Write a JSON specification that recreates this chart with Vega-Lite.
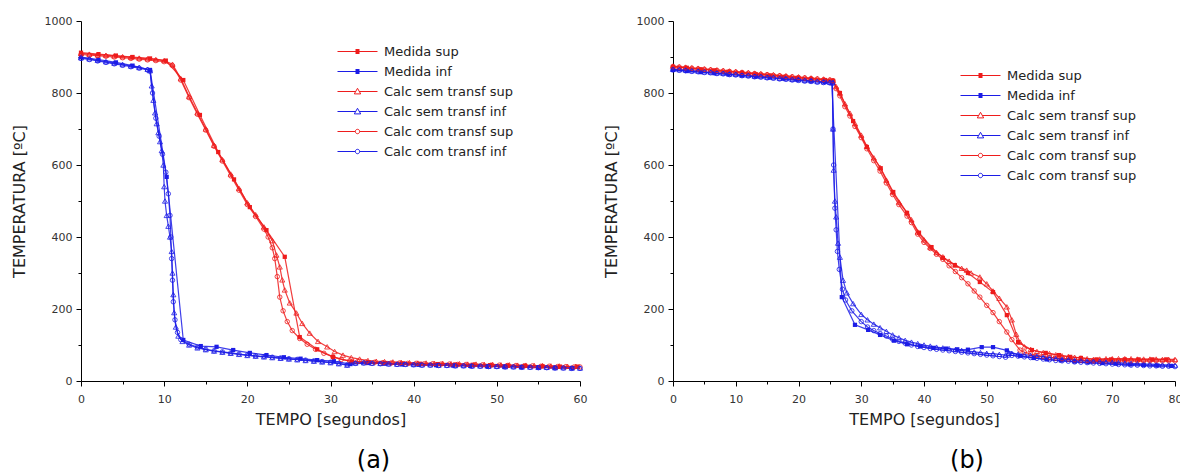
{
"$schema": "https://vega.github.io/schema/vega-lite/v6.json",
"padding": {"left": 11, "top": 15, "right": 0, "bottom": 0},
"spacing": 16,
"config": {
  "view": {"stroke": null},
  "font": "DejaVu Sans",
  "axis": {"grid": false, "domainColor": "#000", "tickColor": "#000", "labelColor": "#333", "titleColor": "#222", "labelFontSize": 11, "titleFontSize": 16, "titleFontWeight": "normal", "domainWidth": 1, "tickWidth": 1},
  "legend": {"labelFontSize": 13, "labelColor": "#222"},
  "title": {"fontSize": 24, "fontWeight": "normal", "color": "#000", "orient": "bottom"}
},
"datasets": {
"a": [
{"s":"ms","t":0,"T":912},{"s":"ms","t":2.1,"T":908},{"s":"ms","t":4.2,"T":904},{"s":"ms","t":6.2,"T":900},{"s":"ms","t":8.3,"T":896},{"s":"ms","t":10.2,"T":890},{"s":"ms","t":12.3,"T":836},{"s":"ms","t":14.3,"T":739},{"s":"ms","t":16.5,"T":636},{"s":"ms","t":18.4,"T":560},{"s":"ms","t":20.3,"T":483},{"s":"ms","t":22.3,"T":419},{"s":"ms","t":24.5,"T":345},{"s":"ms","t":26.3,"T":122},{"s":"ms","t":28.4,"T":88},{"s":"ms","t":30.3,"T":67},{"s":"ms","t":32.6,"T":53},{"s":"ms","t":34.6,"T":52},{"s":"ms","t":36.6,"T":50},{"s":"ms","t":38.7,"T":49},{"s":"ms","t":40.8,"T":48},{"s":"ms","t":42.9,"T":47},{"s":"ms","t":45,"T":46},{"s":"ms","t":47.1,"T":45},{"s":"ms","t":49.2,"T":44},{"s":"ms","t":51.3,"T":43},{"s":"ms","t":53.4,"T":42},{"s":"ms","t":55.5,"T":41},{"s":"ms","t":57.6,"T":40},{"s":"ms","t":59.7,"T":40},
{"s":"mi","t":0,"T":900},{"s":"mi","t":2.1,"T":893},{"s":"mi","t":4.2,"T":885},{"s":"mi","t":6.2,"T":876},{"s":"mi","t":8.3,"T":864},{"s":"mi","t":10.3,"T":567},{"s":"mi","t":12.3,"T":114},{"s":"mi","t":14.4,"T":97},{"s":"mi","t":16.3,"T":95},{"s":"mi","t":18.3,"T":86},{"s":"mi","t":20.3,"T":78},{"s":"mi","t":22.3,"T":72},{"s":"mi","t":24.4,"T":66},{"s":"mi","t":26.4,"T":62},{"s":"mi","t":28.4,"T":58},{"s":"mi","t":30.4,"T":55},{"s":"mi","t":32.4,"T":47},{"s":"mi","t":34.5,"T":50},{"s":"mi","t":36.5,"T":48},{"s":"mi","t":38.6,"T":46},{"s":"mi","t":40.6,"T":45},{"s":"mi","t":42.7,"T":44},{"s":"mi","t":44.7,"T":43},{"s":"mi","t":46.8,"T":42},{"s":"mi","t":48.8,"T":41},{"s":"mi","t":50.9,"T":40},{"s":"mi","t":52.9,"T":39},{"s":"mi","t":55,"T":38},{"s":"mi","t":57,"T":37},{"s":"mi","t":59.1,"T":36},
{"s":"ss","t":0,"T":910},{"s":"ss","t":1,"T":908},{"s":"ss","t":2,"T":906},{"s":"ss","t":3,"T":905},{"s":"ss","t":4,"T":903},{"s":"ss","t":5,"T":901},{"s":"ss","t":6,"T":899},{"s":"ss","t":7,"T":897},{"s":"ss","t":8,"T":895},{"s":"ss","t":9,"T":893},{"s":"ss","t":10,"T":890},{"s":"ss","t":11,"T":880},{"s":"ss","t":12,"T":840},{"s":"ss","t":13,"T":790},{"s":"ss","t":14,"T":745},{"s":"ss","t":15,"T":700},{"s":"ss","t":16,"T":655},{"s":"ss","t":17,"T":615},{"s":"ss","t":18,"T":575},{"s":"ss","t":19,"T":535},{"s":"ss","t":20,"T":495},{"s":"ss","t":21,"T":462},{"s":"ss","t":22,"T":428},{"s":"ss","t":23,"T":390},{"s":"ss","t":23.5,"T":350},{"s":"ss","t":23.9,"T":317},{"s":"ss","t":24.2,"T":281},{"s":"ss","t":24.5,"T":253},{"s":"ss","t":25.1,"T":217},{"s":"ss","t":25.9,"T":189},{"s":"ss","t":26.6,"T":160},{"s":"ss","t":27.5,"T":133},{"s":"ss","t":28.5,"T":110},{"s":"ss","t":29.6,"T":95},{"s":"ss","t":30.5,"T":82},{"s":"ss","t":31.5,"T":72},{"s":"ss","t":32.5,"T":65},{"s":"ss","t":33.5,"T":61},{"s":"ss","t":34.5,"T":57},{"s":"ss","t":35.5,"T":55},{"s":"ss","t":36.5,"T":54},{"s":"ss","t":37.5,"T":53},{"s":"ss","t":38.5,"T":52},{"s":"ss","t":39.5,"T":51},{"s":"ss","t":40.5,"T":50},{"s":"ss","t":41.5,"T":50},{"s":"ss","t":42.5,"T":49},{"s":"ss","t":43.5,"T":49},{"s":"ss","t":44.5,"T":48},{"s":"ss","t":45.5,"T":48},{"s":"ss","t":46.5,"T":47},{"s":"ss","t":47.5,"T":47},{"s":"ss","t":48.5,"T":46},{"s":"ss","t":49.5,"T":46},{"s":"ss","t":50.5,"T":45},{"s":"ss","t":51.5,"T":45},{"s":"ss","t":52.5,"T":44},{"s":"ss","t":53.5,"T":44},{"s":"ss","t":54.5,"T":43},{"s":"ss","t":55.5,"T":43},{"s":"ss","t":56.5,"T":42},{"s":"ss","t":57.5,"T":42},{"s":"ss","t":58.5,"T":41},{"s":"ss","t":59.5,"T":41},
{"s":"cs","t":0,"T":907},{"s":"cs","t":1,"T":905},{"s":"cs","t":2,"T":904},{"s":"cs","t":3,"T":902},{"s":"cs","t":4,"T":900},{"s":"cs","t":5,"T":898},{"s":"cs","t":6,"T":896},{"s":"cs","t":7,"T":894},{"s":"cs","t":8,"T":892},{"s":"cs","t":9,"T":890},{"s":"cs","t":10,"T":887},{"s":"cs","t":11,"T":876},{"s":"cs","t":12,"T":836},{"s":"cs","t":13,"T":787},{"s":"cs","t":14,"T":741},{"s":"cs","t":15,"T":697},{"s":"cs","t":16,"T":652},{"s":"cs","t":17,"T":611},{"s":"cs","t":18,"T":570},{"s":"cs","t":19,"T":530},{"s":"cs","t":20,"T":490},{"s":"cs","t":21,"T":457},{"s":"cs","t":22,"T":422},{"s":"cs","t":22.5,"T":400},{"s":"cs","t":23,"T":370},{"s":"cs","t":23.3,"T":340},{"s":"cs","t":23.6,"T":290},{"s":"cs","t":23.9,"T":233},{"s":"cs","t":24.3,"T":195},{"s":"cs","t":24.8,"T":165},{"s":"cs","t":25.4,"T":140},{"s":"cs","t":26.3,"T":118},{"s":"cs","t":27.2,"T":102},{"s":"cs","t":28.2,"T":88},{"s":"cs","t":29.2,"T":77},{"s":"cs","t":30.3,"T":67},{"s":"cs","t":31.3,"T":60},{"s":"cs","t":32.3,"T":56},{"s":"cs","t":33.3,"T":54},{"s":"cs","t":34.3,"T":53},{"s":"cs","t":35.3,"T":52},{"s":"cs","t":36.3,"T":51},{"s":"cs","t":37.3,"T":50},{"s":"cs","t":38.3,"T":50},{"s":"cs","t":39.3,"T":49},{"s":"cs","t":40.3,"T":49},{"s":"cs","t":41.3,"T":48},{"s":"cs","t":42.3,"T":48},{"s":"cs","t":43.3,"T":47},{"s":"cs","t":44.3,"T":47},{"s":"cs","t":45.3,"T":46},{"s":"cs","t":46.3,"T":46},{"s":"cs","t":47.3,"T":45},{"s":"cs","t":48.3,"T":45},{"s":"cs","t":49.3,"T":44},{"s":"cs","t":50.3,"T":44},{"s":"cs","t":51.3,"T":43},{"s":"cs","t":52.3,"T":43},{"s":"cs","t":53.3,"T":42},{"s":"cs","t":54.3,"T":42},{"s":"cs","t":55.3,"T":41},{"s":"cs","t":56.3,"T":41},{"s":"cs","t":57.3,"T":40},{"s":"cs","t":58.3,"T":40},{"s":"cs","t":59.3,"T":39},{"s":"cs","t":60,"T":39},
{"s":"si","t":0,"T":898},{"s":"si","t":1,"T":895},{"s":"si","t":2,"T":891},{"s":"si","t":3,"T":887},{"s":"si","t":4,"T":883},{"s":"si","t":5,"T":879},{"s":"si","t":6,"T":875},{"s":"si","t":7,"T":871},{"s":"si","t":8,"T":866},{"s":"si","t":8.3,"T":862},{"s":"si","t":8.5,"T":820},{"s":"si","t":8.7,"T":780},{"s":"si","t":8.9,"T":745},{"s":"si","t":9.1,"T":715},{"s":"si","t":9.3,"T":690},{"s":"si","t":9.5,"T":665},{"s":"si","t":9.7,"T":640},{"s":"si","t":9.9,"T":600},{"s":"si","t":10,"T":540},{"s":"si","t":10.1,"T":500},{"s":"si","t":10.3,"T":460},{"s":"si","t":10.5,"T":430},{"s":"si","t":10.7,"T":400},{"s":"si","t":10.9,"T":360},{"s":"si","t":11,"T":300},{"s":"si","t":11.1,"T":240},{"s":"si","t":11.2,"T":190},{"s":"si","t":11.4,"T":150},{"s":"si","t":11.7,"T":125},{"s":"si","t":12.2,"T":110},{"s":"si","t":13,"T":100},{"s":"si","t":14,"T":92},{"s":"si","t":15,"T":87},{"s":"si","t":16,"T":83},{"s":"si","t":17,"T":80},{"s":"si","t":18,"T":77},{"s":"si","t":19,"T":74},{"s":"si","t":20,"T":71},{"s":"si","t":21,"T":69},{"s":"si","t":22,"T":67},{"s":"si","t":23,"T":65},{"s":"si","t":24,"T":63},{"s":"si","t":25,"T":61},{"s":"si","t":26,"T":59},{"s":"si","t":27,"T":57},{"s":"si","t":28,"T":55},{"s":"si","t":29,"T":53},{"s":"si","t":30,"T":51},{"s":"si","t":31,"T":48},{"s":"si","t":32,"T":44},{"s":"si","t":33,"T":50},{"s":"si","t":34,"T":51},{"s":"si","t":35,"T":50},{"s":"si","t":36,"T":49},{"s":"si","t":37,"T":48},{"s":"si","t":38,"T":47},{"s":"si","t":39,"T":47},{"s":"si","t":40,"T":46},{"s":"si","t":41,"T":45},{"s":"si","t":42,"T":45},{"s":"si","t":43,"T":44},{"s":"si","t":44,"T":44},{"s":"si","t":45,"T":43},{"s":"si","t":46,"T":43},{"s":"si","t":47,"T":42},{"s":"si","t":48,"T":42},{"s":"si","t":49,"T":41},{"s":"si","t":50,"T":41},{"s":"si","t":51,"T":40},{"s":"si","t":52,"T":40},{"s":"si","t":53,"T":39},{"s":"si","t":54,"T":39},{"s":"si","t":55,"T":38},{"s":"si","t":56,"T":38},{"s":"si","t":57,"T":37},{"s":"si","t":58,"T":37},{"s":"si","t":59,"T":36},{"s":"si","t":60,"T":36},
{"s":"ci","t":0,"T":896},{"s":"ci","t":1,"T":893},{"s":"ci","t":2,"T":889},{"s":"ci","t":3,"T":885},{"s":"ci","t":4,"T":881},{"s":"ci","t":5,"T":877},{"s":"ci","t":6,"T":873},{"s":"ci","t":7,"T":869},{"s":"ci","t":8,"T":864},{"s":"ci","t":8.3,"T":861},{"s":"ci","t":8.6,"T":800},{"s":"ci","t":9,"T":730},{"s":"ci","t":9.4,"T":680},{"s":"ci","t":9.8,"T":630},{"s":"ci","t":10.2,"T":580},{"s":"ci","t":10.5,"T":520},{"s":"ci","t":10.7,"T":460},{"s":"ci","t":10.8,"T":400},{"s":"ci","t":10.9,"T":340},{"s":"ci","t":11,"T":280},{"s":"ci","t":11.1,"T":220},{"s":"ci","t":11.3,"T":170},{"s":"ci","t":11.6,"T":135},{"s":"ci","t":12,"T":115},{"s":"ci","t":13,"T":102},{"s":"ci","t":14,"T":94},{"s":"ci","t":15,"T":88},{"s":"ci","t":16,"T":84},{"s":"ci","t":17,"T":81},{"s":"ci","t":18,"T":78},{"s":"ci","t":19,"T":75},{"s":"ci","t":20,"T":72},{"s":"ci","t":21,"T":70},{"s":"ci","t":22,"T":68},{"s":"ci","t":23,"T":66},{"s":"ci","t":24,"T":64},{"s":"ci","t":25,"T":62},{"s":"ci","t":26,"T":60},{"s":"ci","t":27,"T":58},{"s":"ci","t":28,"T":56},{"s":"ci","t":29,"T":54},{"s":"ci","t":30,"T":52},{"s":"ci","t":31,"T":49},{"s":"ci","t":32,"T":45},{"s":"ci","t":33,"T":49},{"s":"ci","t":34,"T":50},{"s":"ci","t":35,"T":49},{"s":"ci","t":36,"T":48},{"s":"ci","t":37,"T":47},{"s":"ci","t":38,"T":46},{"s":"ci","t":39,"T":46},{"s":"ci","t":40,"T":45},{"s":"ci","t":41,"T":44},{"s":"ci","t":42,"T":44},{"s":"ci","t":43,"T":43},{"s":"ci","t":44,"T":43},{"s":"ci","t":45,"T":42},{"s":"ci","t":46,"T":42},{"s":"ci","t":47,"T":41},{"s":"ci","t":48,"T":41},{"s":"ci","t":49,"T":40},{"s":"ci","t":50,"T":40},{"s":"ci","t":51,"T":39},{"s":"ci","t":52,"T":39},{"s":"ci","t":53,"T":38},{"s":"ci","t":54,"T":38},{"s":"ci","t":55,"T":37},{"s":"ci","t":56,"T":37},{"s":"ci","t":57,"T":36},{"s":"ci","t":58,"T":36},{"s":"ci","t":59,"T":35},{"s":"ci","t":60,"T":35}
],
"b": [
{"s":"ms","t":0,"T":873},{"s":"ms","t":2.2,"T":870},{"s":"ms","t":4.4,"T":866},{"s":"ms","t":6.6,"T":863},{"s":"ms","t":8.8,"T":859},{"s":"ms","t":11,"T":856},{"s":"ms","t":13.2,"T":852},{"s":"ms","t":15.4,"T":849},{"s":"ms","t":17.6,"T":845},{"s":"ms","t":19.8,"T":842},{"s":"ms","t":22,"T":839},{"s":"ms","t":24.2,"T":836},{"s":"ms","t":25.5,"T":834},{"s":"ms","t":26.6,"T":800},{"s":"ms","t":28.7,"T":722},{"s":"ms","t":30.9,"T":650},{"s":"ms","t":33.1,"T":591},{"s":"ms","t":35.1,"T":525},{"s":"ms","t":37.3,"T":467},{"s":"ms","t":39.2,"T":412},{"s":"ms","t":41.2,"T":372},{"s":"ms","t":43,"T":342},{"s":"ms","t":44.9,"T":322},{"s":"ms","t":47,"T":300},{"s":"ms","t":48.9,"T":275},{"s":"ms","t":51,"T":247},{"s":"ms","t":53.2,"T":183},{"s":"ms","t":55,"T":108},{"s":"ms","t":57.2,"T":86},{"s":"ms","t":59.4,"T":78},{"s":"ms","t":61.5,"T":72},{"s":"ms","t":63.3,"T":67},{"s":"ms","t":65,"T":64},{"s":"ms","t":67.5,"T":60},{"s":"ms","t":69.8,"T":60},{"s":"ms","t":72,"T":60},{"s":"ms","t":74.2,"T":60},{"s":"ms","t":76.4,"T":60},{"s":"ms","t":78.6,"T":60},
{"s":"mi","t":0,"T":864},{"s":"mi","t":2.2,"T":861},{"s":"mi","t":4.4,"T":858},{"s":"mi","t":6.6,"T":855},{"s":"mi","t":8.8,"T":852},{"s":"mi","t":11,"T":849},{"s":"mi","t":13.2,"T":846},{"s":"mi","t":15.4,"T":843},{"s":"mi","t":17.6,"T":840},{"s":"mi","t":19.8,"T":837},{"s":"mi","t":22,"T":834},{"s":"mi","t":24.2,"T":831},{"s":"mi","t":25.3,"T":830},{"s":"mi","t":26.9,"T":233},{"s":"mi","t":29,"T":156},{"s":"mi","t":31.1,"T":142},{"s":"mi","t":33,"T":128},{"s":"mi","t":35.2,"T":112},{"s":"mi","t":37.3,"T":102},{"s":"mi","t":39.4,"T":96},{"s":"mi","t":41.5,"T":92},{"s":"mi","t":43.5,"T":90},{"s":"mi","t":45.3,"T":88},{"s":"mi","t":47,"T":87},{"s":"mi","t":49.2,"T":94},{"s":"mi","t":51,"T":94},{"s":"mi","t":53.2,"T":85},{"s":"mi","t":55.3,"T":70},{"s":"mi","t":57.5,"T":64},{"s":"mi","t":59.6,"T":60},{"s":"mi","t":61.8,"T":57},{"s":"mi","t":64,"T":54},{"s":"mi","t":66.2,"T":52},{"s":"mi","t":68.4,"T":50},{"s":"mi","t":70.6,"T":48},{"s":"mi","t":72.8,"T":46},{"s":"mi","t":75,"T":45},{"s":"mi","t":77.2,"T":43},{"s":"mi","t":79.4,"T":42},
{"s":"ss","t":0,"T":875},{"s":"ss","t":1,"T":873},{"s":"ss","t":2,"T":872},{"s":"ss","t":3,"T":870},{"s":"ss","t":4,"T":869},{"s":"ss","t":5,"T":867},{"s":"ss","t":6,"T":866},{"s":"ss","t":7,"T":864},{"s":"ss","t":8,"T":863},{"s":"ss","t":9,"T":861},{"s":"ss","t":10,"T":860},{"s":"ss","t":11,"T":858},{"s":"ss","t":12,"T":857},{"s":"ss","t":13,"T":855},{"s":"ss","t":14,"T":854},{"s":"ss","t":15,"T":852},{"s":"ss","t":16,"T":851},{"s":"ss","t":17,"T":849},{"s":"ss","t":18,"T":848},{"s":"ss","t":19,"T":846},{"s":"ss","t":20,"T":845},{"s":"ss","t":21,"T":843},{"s":"ss","t":22,"T":842},{"s":"ss","t":23,"T":840},{"s":"ss","t":24,"T":839},{"s":"ss","t":25,"T":837},{"s":"ss","t":25.5,"T":835},{"s":"ss","t":26,"T":818},{"s":"ss","t":26.6,"T":800},{"s":"ss","t":27.4,"T":770},{"s":"ss","t":28.2,"T":744},{"s":"ss","t":29,"T":715},{"s":"ss","t":30,"T":683},{"s":"ss","t":30.9,"T":652},{"s":"ss","t":32,"T":620},{"s":"ss","t":33,"T":593},{"s":"ss","t":34,"T":558},{"s":"ss","t":35,"T":525},{"s":"ss","t":36,"T":497},{"s":"ss","t":37.3,"T":467},{"s":"ss","t":38,"T":448},{"s":"ss","t":39,"T":414},{"s":"ss","t":40,"T":392},{"s":"ss","t":41,"T":372},{"s":"ss","t":42,"T":357},{"s":"ss","t":43,"T":345},{"s":"ss","t":44,"T":333},{"s":"ss","t":45,"T":322},{"s":"ss","t":46,"T":313},{"s":"ss","t":46.8,"T":308},{"s":"ss","t":47.5,"T":300},{"s":"ss","t":48.9,"T":289},{"s":"ss","t":50,"T":270},{"s":"ss","t":51,"T":250},{"s":"ss","t":52,"T":230},{"s":"ss","t":53.2,"T":206},{"s":"ss","t":54,"T":170},{"s":"ss","t":54.7,"T":130},{"s":"ss","t":55.3,"T":108},{"s":"ss","t":56,"T":95},{"s":"ss","t":57,"T":88},{"s":"ss","t":58,"T":82},{"s":"ss","t":59,"T":79},{"s":"ss","t":60,"T":76},{"s":"ss","t":61,"T":73},{"s":"ss","t":62,"T":70},{"s":"ss","t":63,"T":68},{"s":"ss","t":64,"T":66},{"s":"ss","t":65,"T":64},{"s":"ss","t":66,"T":62},{"s":"ss","t":67,"T":60},{"s":"ss","t":68,"T":61},{"s":"ss","t":69,"T":62},{"s":"ss","t":70,"T":62},{"s":"ss","t":71,"T":62},{"s":"ss","t":72,"T":62},{"s":"ss","t":73,"T":62},{"s":"ss","t":74,"T":61},{"s":"ss","t":75,"T":61},{"s":"ss","t":76,"T":61},{"s":"ss","t":77,"T":61},{"s":"ss","t":78,"T":60},{"s":"ss","t":79,"T":60},{"s":"ss","t":80,"T":60},
{"s":"cs","t":0,"T":873},{"s":"cs","t":1,"T":872},{"s":"cs","t":2,"T":870},{"s":"cs","t":3,"T":869},{"s":"cs","t":4,"T":867},{"s":"cs","t":5,"T":866},{"s":"cs","t":6,"T":864},{"s":"cs","t":7,"T":863},{"s":"cs","t":8,"T":861},{"s":"cs","t":9,"T":860},{"s":"cs","t":10,"T":858},{"s":"cs","t":11,"T":857},{"s":"cs","t":12,"T":855},{"s":"cs","t":13,"T":854},{"s":"cs","t":14,"T":852},{"s":"cs","t":15,"T":851},{"s":"cs","t":16,"T":849},{"s":"cs","t":17,"T":848},{"s":"cs","t":18,"T":846},{"s":"cs","t":19,"T":845},{"s":"cs","t":20,"T":843},{"s":"cs","t":21,"T":842},{"s":"cs","t":22,"T":840},{"s":"cs","t":23,"T":839},{"s":"cs","t":24,"T":837},{"s":"cs","t":25,"T":836},{"s":"cs","t":25.5,"T":834},{"s":"cs","t":26,"T":812},{"s":"cs","t":26.6,"T":792},{"s":"cs","t":27.4,"T":762},{"s":"cs","t":28.2,"T":736},{"s":"cs","t":29,"T":707},{"s":"cs","t":30,"T":676},{"s":"cs","t":30.9,"T":645},{"s":"cs","t":32,"T":612},{"s":"cs","t":33,"T":583},{"s":"cs","t":34,"T":550},{"s":"cs","t":35,"T":518},{"s":"cs","t":36,"T":490},{"s":"cs","t":37.3,"T":458},{"s":"cs","t":38,"T":440},{"s":"cs","t":39,"T":408},{"s":"cs","t":40,"T":385},{"s":"cs","t":41,"T":368},{"s":"cs","t":42,"T":352},{"s":"cs","t":43,"T":338},{"s":"cs","t":44,"T":320},{"s":"cs","t":45,"T":304},{"s":"cs","t":46,"T":287},{"s":"cs","t":47,"T":270},{"s":"cs","t":48,"T":250},{"s":"cs","t":48.9,"T":233},{"s":"cs","t":50,"T":210},{"s":"cs","t":51,"T":190},{"s":"cs","t":52,"T":165},{"s":"cs","t":53.2,"T":136},{"s":"cs","t":54,"T":115},{"s":"cs","t":55.3,"T":86},{"s":"cs","t":56,"T":80},{"s":"cs","t":57,"T":75},{"s":"cs","t":58,"T":71},{"s":"cs","t":59,"T":68},{"s":"cs","t":60,"T":66},{"s":"cs","t":61,"T":64},{"s":"cs","t":62,"T":62},{"s":"cs","t":63,"T":61},{"s":"cs","t":64,"T":59},{"s":"cs","t":65,"T":58},{"s":"cs","t":66,"T":57},{"s":"cs","t":67,"T":56},{"s":"cs","t":68,"T":56},{"s":"cs","t":69,"T":56},{"s":"cs","t":70,"T":56},{"s":"cs","t":71,"T":56},{"s":"cs","t":72,"T":56},{"s":"cs","t":73,"T":56},{"s":"cs","t":74,"T":56},{"s":"cs","t":75,"T":56},{"s":"cs","t":76,"T":56},{"s":"cs","t":77,"T":56},{"s":"cs","t":78,"T":56},{"s":"cs","t":79,"T":56},{"s":"cs","t":80,"T":56},
{"s":"si","t":0,"T":866},{"s":"si","t":1,"T":865},{"s":"si","t":2,"T":864},{"s":"si","t":3,"T":862},{"s":"si","t":4,"T":861},{"s":"si","t":5,"T":859},{"s":"si","t":6,"T":858},{"s":"si","t":7,"T":856},{"s":"si","t":8,"T":855},{"s":"si","t":9,"T":853},{"s":"si","t":10,"T":852},{"s":"si","t":11,"T":850},{"s":"si","t":12,"T":849},{"s":"si","t":13,"T":847},{"s":"si","t":14,"T":846},{"s":"si","t":15,"T":844},{"s":"si","t":16,"T":843},{"s":"si","t":17,"T":841},{"s":"si","t":18,"T":840},{"s":"si","t":19,"T":838},{"s":"si","t":20,"T":837},{"s":"si","t":21,"T":835},{"s":"si","t":22,"T":834},{"s":"si","t":23,"T":832},{"s":"si","t":24,"T":831},{"s":"si","t":25,"T":830},{"s":"si","t":25.4,"T":829},{"s":"si","t":25.5,"T":700},{"s":"si","t":25.6,"T":586},{"s":"si","t":25.8,"T":500},{"s":"si","t":26,"T":456},{"s":"si","t":26.3,"T":383},{"s":"si","t":26.6,"T":344},{"s":"si","t":27.1,"T":280},{"s":"si","t":27.7,"T":245},{"s":"si","t":28.7,"T":215},{"s":"si","t":30,"T":185},{"s":"si","t":31,"T":170},{"s":"si","t":32,"T":158},{"s":"si","t":33,"T":148},{"s":"si","t":34,"T":138},{"s":"si","t":35,"T":128},{"s":"si","t":36,"T":120},{"s":"si","t":37,"T":113},{"s":"si","t":38,"T":108},{"s":"si","t":39,"T":104},{"s":"si","t":40,"T":100},{"s":"si","t":41,"T":97},{"s":"si","t":42,"T":94},{"s":"si","t":43,"T":92},{"s":"si","t":44,"T":90},{"s":"si","t":45,"T":87},{"s":"si","t":46,"T":85},{"s":"si","t":47,"T":83},{"s":"si","t":48,"T":81},{"s":"si","t":49,"T":79},{"s":"si","t":50,"T":77},{"s":"si","t":51,"T":76},{"s":"si","t":52,"T":74},{"s":"si","t":53,"T":72},{"s":"si","t":53.5,"T":78},{"s":"si","t":54,"T":77},{"s":"si","t":55,"T":75},{"s":"si","t":56,"T":73},{"s":"si","t":57,"T":71},{"s":"si","t":58,"T":69},{"s":"si","t":59,"T":67},{"s":"si","t":60,"T":65},{"s":"si","t":61,"T":63},{"s":"si","t":62,"T":61},{"s":"si","t":63,"T":60},{"s":"si","t":64,"T":58},{"s":"si","t":65,"T":57},{"s":"si","t":66,"T":56},{"s":"si","t":67,"T":55},{"s":"si","t":68,"T":54},{"s":"si","t":69,"T":53},{"s":"si","t":70,"T":52},{"s":"si","t":71,"T":51},{"s":"si","t":72,"T":50},{"s":"si","t":73,"T":49},{"s":"si","t":74,"T":48},{"s":"si","t":75,"T":47},{"s":"si","t":76,"T":47},{"s":"si","t":77,"T":46},{"s":"si","t":78,"T":45},{"s":"si","t":79,"T":45},{"s":"si","t":80,"T":44},
{"s":"ci","t":0,"T":864},{"s":"ci","t":1,"T":863},{"s":"ci","t":2,"T":862},{"s":"ci","t":3,"T":860},{"s":"ci","t":4,"T":859},{"s":"ci","t":5,"T":857},{"s":"ci","t":6,"T":856},{"s":"ci","t":7,"T":854},{"s":"ci","t":8,"T":853},{"s":"ci","t":9,"T":851},{"s":"ci","t":10,"T":850},{"s":"ci","t":11,"T":848},{"s":"ci","t":12,"T":847},{"s":"ci","t":13,"T":845},{"s":"ci","t":14,"T":844},{"s":"ci","t":15,"T":842},{"s":"ci","t":16,"T":841},{"s":"ci","t":17,"T":839},{"s":"ci","t":18,"T":838},{"s":"ci","t":19,"T":836},{"s":"ci","t":20,"T":835},{"s":"ci","t":21,"T":833},{"s":"ci","t":22,"T":832},{"s":"ci","t":23,"T":830},{"s":"ci","t":24,"T":829},{"s":"ci","t":25,"T":828},{"s":"ci","t":25.4,"T":827},{"s":"ci","t":25.5,"T":700},{"s":"ci","t":25.6,"T":600},{"s":"ci","t":25.8,"T":480},{"s":"ci","t":26,"T":420},{"s":"ci","t":26.2,"T":360},{"s":"ci","t":26.5,"T":310},{"s":"ci","t":27,"T":255},{"s":"ci","t":27.5,"T":225},{"s":"ci","t":28.5,"T":195},{"s":"ci","t":30,"T":165},{"s":"ci","t":31,"T":150},{"s":"ci","t":32,"T":140},{"s":"ci","t":33,"T":132},{"s":"ci","t":34,"T":125},{"s":"ci","t":35,"T":116},{"s":"ci","t":36,"T":110},{"s":"ci","t":37,"T":105},{"s":"ci","t":38,"T":100},{"s":"ci","t":39,"T":96},{"s":"ci","t":40,"T":93},{"s":"ci","t":41,"T":90},{"s":"ci","t":42,"T":88},{"s":"ci","t":43,"T":86},{"s":"ci","t":44,"T":84},{"s":"ci","t":45,"T":82},{"s":"ci","t":46,"T":80},{"s":"ci","t":47,"T":78},{"s":"ci","t":48,"T":76},{"s":"ci","t":49,"T":74},{"s":"ci","t":50,"T":72},{"s":"ci","t":51,"T":70},{"s":"ci","t":52,"T":68},{"s":"ci","t":53,"T":66},{"s":"ci","t":53.5,"T":72},{"s":"ci","t":54,"T":71},{"s":"ci","t":55,"T":69},{"s":"ci","t":56,"T":67},{"s":"ci","t":57,"T":65},{"s":"ci","t":58,"T":63},{"s":"ci","t":59,"T":61},{"s":"ci","t":60,"T":59},{"s":"ci","t":61,"T":57},{"s":"ci","t":62,"T":56},{"s":"ci","t":63,"T":55},{"s":"ci","t":64,"T":53},{"s":"ci","t":65,"T":52},{"s":"ci","t":66,"T":51},{"s":"ci","t":67,"T":50},{"s":"ci","t":68,"T":49},{"s":"ci","t":69,"T":48},{"s":"ci","t":70,"T":47},{"s":"ci","t":71,"T":46},{"s":"ci","t":72,"T":45},{"s":"ci","t":73,"T":44},{"s":"ci","t":74,"T":44},{"s":"ci","t":75,"T":43},{"s":"ci","t":76,"T":42},{"s":"ci","t":77,"T":42},{"s":"ci","t":78,"T":41},{"s":"ci","t":79,"T":41},{"s":"ci","t":80,"T":40}
]
},
"resolve": {
  "scale": {"x": "independent", "y": "independent", "color": "independent", "shape": "independent"},
  "legend": {"color": "independent", "shape": "independent"}
},
"hconcat": [
{
  "width": 499, "height": 360,
  "data": {"name": "a"},
  "title": {"text": "(a)", "dx": 43, "offset": 22},
  "encoding": {
    "x": {"field": "t", "type": "quantitative", "scale": {"domain": [0, 60], "nice": false, "zero": false},
      "axis": {"title": "TEMPO [segundos]", "values": [0,5,10,15,20,25,30,35,40,45,50,55,60], "labelExpr": "datum.value % 10 == 0 ? datum.label : ''", "tickSize": {"condition": {"test": "datum.value % 10 == 0", "value": 5}, "value": 3}, "labelPadding": 7, "titlePadding": 7, "labelFlush": false}},
    "y": {"field": "T", "type": "quantitative", "scale": {"domain": [0, 1000], "nice": false},
      "axis": {"title": "TEMPERATURA [ºC]", "values": [0,100,200,300,400,500,600,700,800,900,1000], "labelExpr": "datum.value % 200 == 0 ? datum.label : ''", "tickSize": {"condition": {"test": "datum.value % 200 == 0", "value": 5}, "value": 3}, "labelPadding": 4, "titlePadding": 17, "labelFlush": false, "format": "d"}}
  },
  "resolve": {"scale": {"color": "independent", "shape": "independent"}, "legend": {"color": "independent", "shape": "independent"}},
  "layer": [
    {"mark": {"type": "line", "strokeWidth": 1.2, "opacity": 0.85},
     "encoding": {"color": {"field": "s", "type": "nominal", "scale": {"domain": ["ms","mi","ss","si","cs","ci"], "range": ["#ee1c1c","#1c1ce6","#ee1c1c","#1c1ce6","#ee1c1c","#1c1ce6"]}, "legend": null}}},
    {"transform": [{"filter": "datum.s == 'ms' || datum.s == 'mi'"}],
     "mark": {"type": "point", "shape": "square", "filled": true, "size": 18, "opacity": 1},
     "encoding": {"color": {"field": "s", "type": "nominal", "scale": {"domain": ["ms","mi","ss","si","cs","ci"], "range": ["#ee1c1c","#1c1ce6","#ee1c1c","#1c1ce6","#ee1c1c","#1c1ce6"]}, "legend": null}}},
    {"transform": [{"filter": "datum.s == 'ss' || datum.s == 'si'"}],
     "mark": {"type": "point", "shape": "triangle-up", "filled": false, "size": 26, "strokeWidth": 0.8, "opacity": 1},
     "encoding": {"color": {"field": "s", "type": "nominal", "scale": {"domain": ["ms","mi","ss","si","cs","ci"], "range": ["#ee1c1c","#1c1ce6","#ee1c1c","#1c1ce6","#ee1c1c","#1c1ce6"]}, "legend": null}}},
    {"transform": [{"filter": "datum.s == 'cs' || datum.s == 'ci'"}],
     "mark": {"type": "point", "shape": "circle", "filled": false, "size": 20, "strokeWidth": 0.8, "opacity": 1},
     "encoding": {"color": {"field": "s", "type": "nominal", "scale": {"domain": ["ms","mi","ss","si","cs","ci"], "range": ["#ee1c1c","#1c1ce6","#ee1c1c","#1c1ce6","#ee1c1c","#1c1ce6"]}, "legend": null}}},
    {"transform": [{"filter": "datum.t == 30"}],
     "mark": {"type": "point", "filled": false, "size": 64, "strokeWidth": 1, "opacity": 0},
     "encoding": {
       "color": {"field": "s", "type": "nominal", "scale": {"domain": ["ms","mi","ss","si","cs","ci"], "range": ["#ee1c1c","#1c1ce6","#ee1c1c","#1c1ce6","#ee1c1c","#1c1ce6"]},
         "legend": {"title": null, "orient": "none", "legendX": 270, "legendY": 24, "labelOffset": 20, "rowPadding": 6, "symbolSize": 64, "symbolStrokeWidth": 1, "symbolOpacity": 1, "labelExpr": "datum.value == 'ms' ? 'Medida sup' : datum.value == 'mi' ? 'Medida inf' : datum.value == 'ss' ? 'Calc sem transf sup' : datum.value == 'si' ? 'Calc sem transf inf' : datum.value == 'cs' ? 'Calc com transf sup' : 'Calc com transf inf'"}},
       "shape": {"field": "s", "type": "nominal", "scale": {"domain": ["ms","mi","ss","si","cs","ci"], "range": ["M-5,0H5M-0.5,-0.5H0.5M-0.5,-0.25H0.5M-0.5,0.25H0.5M-0.5,0.5H0.5","M-5,0H5M-0.5,-0.5H0.5M-0.5,-0.25H0.5M-0.5,0.25H0.5M-0.5,0.5H0.5","M-5,0H-0.45M0.45,0H5M0,-0.8L0.8,0.6H-0.8Z","M-5,0H-0.45M0.45,0H5M0,-0.8L0.8,0.6H-0.8Z","M-5,0H-0.55M0.55,0H5M0.55,0A0.55,0.55,0,1,1,-0.55,0A0.55,0.55,0,1,1,0.55,0Z","M-5,0H-0.55M0.55,0H5M0.55,0A0.55,0.55,0,1,1,-0.55,0A0.55,0.55,0,1,1,0.55,0Z"]},
         "legend": {"title": null, "orient": "none", "legendX": 270, "legendY": 24, "labelOffset": 20, "rowPadding": 6, "symbolSize": 64, "symbolStrokeWidth": 1, "symbolOpacity": 1, "labelExpr": "datum.value == 'ms' ? 'Medida sup' : datum.value == 'mi' ? 'Medida inf' : datum.value == 'ss' ? 'Calc sem transf sup' : datum.value == 'si' ? 'Calc sem transf inf' : datum.value == 'cs' ? 'Calc com transf sup' : 'Calc com transf inf'"}}
     }}
  ]
},
{
  "width": 502, "height": 360,
  "data": {"name": "b"},
  "title": {"text": "(b)", "dx": 43, "offset": 22},
  "encoding": {
    "x": {"field": "t", "type": "quantitative", "scale": {"domain": [0, 80], "nice": false, "zero": false},
      "axis": {"title": "TEMPO [segundos]", "values": [0,5,10,15,20,25,30,35,40,45,50,55,60,65,70,75,80], "labelExpr": "datum.value % 10 == 0 ? datum.label : ''", "tickSize": {"condition": {"test": "datum.value % 10 == 0", "value": 5}, "value": 3}, "labelPadding": 7, "titlePadding": 7, "labelFlush": false}},
    "y": {"field": "T", "type": "quantitative", "scale": {"domain": [0, 1000], "nice": false},
      "axis": {"title": "TEMPERATURA [ºC]", "values": [0,100,200,300,400,500,600,700,800,900,1000], "labelExpr": "datum.value % 200 == 0 ? datum.label : ''", "tickSize": {"condition": {"test": "datum.value % 200 == 0", "value": 5}, "value": 3}, "labelPadding": 4, "titlePadding": 17, "labelFlush": false, "format": "d"}}
  },
  "resolve": {"scale": {"color": "independent", "shape": "independent"}, "legend": {"color": "independent", "shape": "independent"}},
  "layer": [
    {"mark": {"type": "line", "strokeWidth": 1.2, "opacity": 0.85},
     "encoding": {"color": {"field": "s", "type": "nominal", "scale": {"domain": ["ms","mi","ss","si","cs","ci"], "range": ["#ee1c1c","#1c1ce6","#ee1c1c","#1c1ce6","#ee1c1c","#1c1ce6"]}, "legend": null}}},
    {"transform": [{"filter": "datum.s == 'ms' || datum.s == 'mi'"}],
     "mark": {"type": "point", "shape": "square", "filled": true, "size": 18, "opacity": 1},
     "encoding": {"color": {"field": "s", "type": "nominal", "scale": {"domain": ["ms","mi","ss","si","cs","ci"], "range": ["#ee1c1c","#1c1ce6","#ee1c1c","#1c1ce6","#ee1c1c","#1c1ce6"]}, "legend": null}}},
    {"transform": [{"filter": "datum.s == 'ss' || datum.s == 'si'"}],
     "mark": {"type": "point", "shape": "triangle-up", "filled": false, "size": 26, "strokeWidth": 0.8, "opacity": 1},
     "encoding": {"color": {"field": "s", "type": "nominal", "scale": {"domain": ["ms","mi","ss","si","cs","ci"], "range": ["#ee1c1c","#1c1ce6","#ee1c1c","#1c1ce6","#ee1c1c","#1c1ce6"]}, "legend": null}}},
    {"transform": [{"filter": "datum.s == 'cs' || datum.s == 'ci'"}],
     "mark": {"type": "point", "shape": "circle", "filled": false, "size": 20, "strokeWidth": 0.8, "opacity": 1},
     "encoding": {"color": {"field": "s", "type": "nominal", "scale": {"domain": ["ms","mi","ss","si","cs","ci"], "range": ["#ee1c1c","#1c1ce6","#ee1c1c","#1c1ce6","#ee1c1c","#1c1ce6"]}, "legend": null}}},
    {"transform": [{"filter": "datum.t == 30"}],
     "mark": {"type": "point", "filled": false, "size": 64, "strokeWidth": 1, "opacity": 0},
     "encoding": {
       "color": {"field": "s", "type": "nominal", "scale": {"domain": ["ms","mi","ss","si","cs","ci"], "range": ["#ee1c1c","#1c1ce6","#ee1c1c","#1c1ce6","#ee1c1c","#1c1ce6"]},
         "legend": {"title": null, "orient": "none", "legendX": 301, "legendY": 48, "labelOffset": 20, "rowPadding": 6, "symbolSize": 64, "symbolStrokeWidth": 1, "symbolOpacity": 1, "labelExpr": "datum.value == 'ms' ? 'Medida sup' : datum.value == 'mi' ? 'Medida inf' : datum.value == 'ss' ? 'Calc sem transf sup' : datum.value == 'si' ? 'Calc sem transf inf' : 'Calc com transf sup'"}},
       "shape": {"field": "s", "type": "nominal", "scale": {"domain": ["ms","mi","ss","si","cs","ci"], "range": ["M-5,0H5M-0.5,-0.5H0.5M-0.5,-0.25H0.5M-0.5,0.25H0.5M-0.5,0.5H0.5","M-5,0H5M-0.5,-0.5H0.5M-0.5,-0.25H0.5M-0.5,0.25H0.5M-0.5,0.5H0.5","M-5,0H-0.45M0.45,0H5M0,-0.8L0.8,0.6H-0.8Z","M-5,0H-0.45M0.45,0H5M0,-0.8L0.8,0.6H-0.8Z","M-5,0H-0.55M0.55,0H5M0.55,0A0.55,0.55,0,1,1,-0.55,0A0.55,0.55,0,1,1,0.55,0Z","M-5,0H-0.55M0.55,0H5M0.55,0A0.55,0.55,0,1,1,-0.55,0A0.55,0.55,0,1,1,0.55,0Z"]},
         "legend": {"title": null, "orient": "none", "legendX": 301, "legendY": 48, "labelOffset": 20, "rowPadding": 6, "symbolSize": 64, "symbolStrokeWidth": 1, "symbolOpacity": 1, "labelExpr": "datum.value == 'ms' ? 'Medida sup' : datum.value == 'mi' ? 'Medida inf' : datum.value == 'ss' ? 'Calc sem transf sup' : datum.value == 'si' ? 'Calc sem transf inf' : 'Calc com transf sup'"}}
     }}
  ]
}
]
}
